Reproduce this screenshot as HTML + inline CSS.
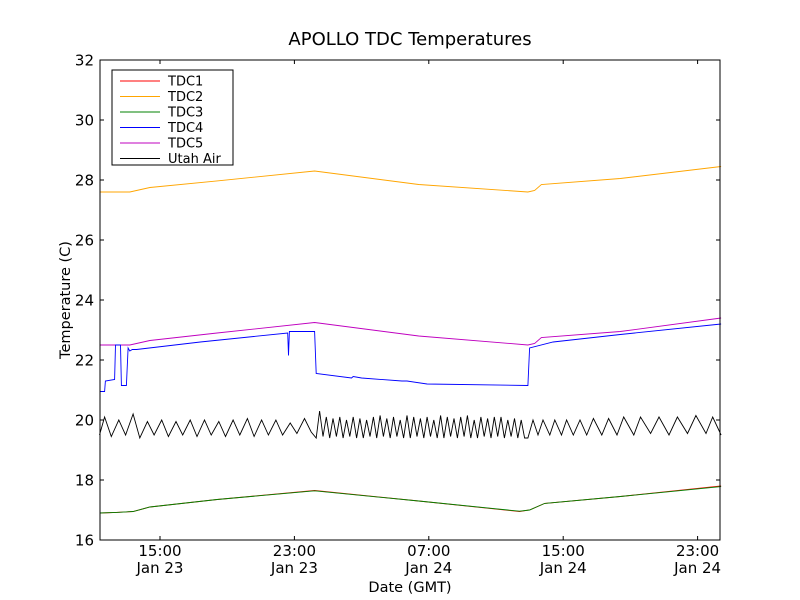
<!DOCTYPE html>
<html><head><meta charset="utf-8"><style>
body{margin:0;background:#fff;}
svg{display:block;font-family:"DejaVu Sans","Liberation Sans",sans-serif;}
</style></head><body>
<svg id="chart" width="800" height="600" viewBox="0 0 800 600" xmlns="http://www.w3.org/2000/svg">
<rect width="800" height="600" fill="#fff"/>
<text x="410" y="45" font-size="18" text-anchor="middle">APOLLO TDC Temperatures</text>
<g id="plot"></g>
<rect x="100" y="60" width="620" height="480" fill="none" stroke="#000" stroke-width="1"/>
<text x="410" y="592" font-size="14.5" text-anchor="middle">Date (GMT)</text>
<text transform="translate(70,300) rotate(-90)" font-size="14.5" text-anchor="middle">Temperature (C)</text>
<g id="legend"></g>
</svg>
<script>
const tdc13Times=[0,1,2,3,7,12.8,19,25,25.6,26.5,31,37];
const tdc1Temps=[16.9,16.92,16.95,17.1,17.35,17.65,17.3,16.95,17.0,17.22,17.45,17.8];
const tdc3Temps=[16.9,16.92,16.95,17.1,17.35,17.64,17.3,16.96,17.0,17.22,17.45,17.78];
const tdc2Times=[0,1.8,3,7,12.8,19,25.5,25.9,26.3,31,37];
const tdc2Temps=[27.6,27.6,27.75,27.97,28.3,27.85,27.6,27.65,27.85,28.05,28.45];
const tdc5Times=[0,1.8,3,7,12.8,19,25.5,25.9,26.3,31,37];
const tdc5Temps=[22.5,22.5,22.65,22.9,23.25,22.8,22.5,22.55,22.75,22.95,23.4];
const tdc4Times=[0,0.3,0.35,0.9,0.95,1.25,1.3,1.6,1.7,1.8,1.95,2.2,6,11.2,11.25,11.3,11.4,12.8,12.9,15,15.1,15.6,18,18.3,19.5,25.5,25.6,27,31,37];
const tdc4Temps=[20.95,20.95,21.3,21.35,22.5,22.5,21.15,21.15,22.4,22.3,22.35,22.35,22.6,22.9,22.15,22.95,22.95,22.95,21.55,21.4,21.45,21.4,21.3,21.3,21.2,21.15,22.4,22.6,22.85,23.2];
const airTimes=[0,0.3,0.7,1.15,1.55,2.0,2.4,2.85,3.25,3.7,4.1,4.55,4.95,5.4,5.8,6.25,6.65,7.1,7.5,7.95,8.35,8.8,9.2,9.65,10.05,10.5,10.9,11.35,11.75,12.2,12.6,12.9,
13.1,13.3,13.5,13.7,13.9,14.1,14.3,14.5,14.7,14.9,15.1,15.3,15.5,15.7,15.9,16.1,16.3,16.5,16.7,16.9,17.1,17.3,17.5,17.7,17.9,18.1,18.3,18.5,18.7,18.9,19.1,19.3,19.5,19.7,19.9,20.1,20.3,20.5,20.7,20.9,21.1,21.3,21.5,21.7,21.9,22.1,22.3,22.5,22.7,22.9,23.1,23.3,23.5,23.7,23.9,24.1,24.3,24.5,24.7,24.9,25.1,25.3,25.5,
25.8,26.1,26.4,26.8,27.1,27.5,27.8,28.2,28.6,29.0,29.4,29.9,30.3,30.8,31.2,31.8,32.2,32.8,33.3,33.9,34.4,35.0,35.5,36.1,36.5,37.0];
const airTemps=[19.5,20.1,19.45,20.0,19.5,20.2,19.4,19.95,19.5,20.0,19.45,19.95,19.5,20.0,19.45,20.0,19.5,19.95,19.45,20.0,19.5,20.05,19.45,20.0,19.5,20.0,19.5,19.9,19.55,20.05,19.6,19.4,
20.3,19.45,20.1,19.4,20.05,19.45,20.1,19.4,20.0,19.45,20.1,19.4,20.05,19.4,20.0,19.45,20.1,19.4,20.15,19.45,20.05,19.4,20.1,19.45,20.0,19.4,20.15,19.4,20.1,19.45,20.05,19.4,20.1,19.45,20.0,19.4,20.15,19.4,20.1,19.45,20.05,19.4,20.1,19.45,20.15,19.4,20.0,19.4,20.1,19.45,20.05,19.4,20.1,19.45,20.1,19.4,20.0,19.45,20.05,19.4,20.0,19.4,19.4,
20.0,19.5,20.0,19.5,20.0,19.5,20.0,19.5,20.0,19.5,20.05,19.5,20.05,19.5,20.1,19.5,20.1,19.55,20.1,19.5,20.1,19.55,20.15,19.55,20.1,19.5];
const yTicks=[16,18,20,22,24,26,28,30,32];
const xTickHours=[3.6,11.6,19.6,27.6,35.6];
const xTickTimes=["15:00","23:00","07:00","15:00","23:00"];
const xTickDates=["Jan 23","Jan 23","Jan 24","Jan 24","Jan 24"];
const seriesNames=["TDC1","TDC2","TDC3","TDC4","TDC5","Utah Air"];
const seriesColors=["#ff0000","#ffa500","#008000","#0000ff","#bf00bf","#000000"];

const NS="http://www.w3.org/2000/svg";
const X=h=>160+(h-3.6)*16.8;
const Y=v=>540-(v-16)*30;
const plot=document.getElementById('plot');
const svg=document.getElementById('chart');
function mk(tag,attrs,parent){const e=document.createElementNS(NS,tag);for(const k in attrs)e.setAttribute(k,attrs[k]);parent.appendChild(e);return e;}
function line(times,vals,color,name){
  const d=times.map((t,i)=>(i?'L':'M')+X(t).toFixed(1)+','+Y(vals[i]).toFixed(1)).join('');
  const p=mk('path',{d:d,fill:'none',stroke:color,'stroke-width':0.9},plot);
  
  
}
line(tdc2Times,tdc2Temps,seriesColors[1],'tdc2-line');
line(tdc5Times,tdc5Temps,seriesColors[4],'tdc5-line');
line(tdc4Times,tdc4Temps,seriesColors[3],'tdc4-line');
line(airTimes,airTemps,seriesColors[5],'utah-air-line');
line(tdc13Times,tdc1Temps,seriesColors[0],'tdc1-line');
line(tdc13Times,tdc3Temps,seriesColors[2],'tdc3-line');
yTicks.forEach(v=>{
  const y=Y(v);
  const a=mk('line',{x1:100,x2:104,y1:y,y2:y,stroke:'#000'},svg);
  
  
  mk('line',{x1:716,x2:720,y1:y,y2:y,stroke:'#000'},svg);
  const t=mk('text',{x:94,y:y+5.5,'font-size':15,'text-anchor':'end'},svg);
  t.textContent=v;
  
  
});
xTickHours.forEach((h,i)=>{
  const x=X(h);
  const a=mk('line',{x1:x,x2:x,y1:536,y2:540,stroke:'#000'},svg);
  
  
  mk('line',{x1:x,x2:x,y1:60,y2:64,stroke:'#000'},svg);
  const t=mk('text',{x:x,y:556,'font-size':15,'text-anchor':'middle'},svg);
  t.textContent=xTickTimes[i];
  
  
  const t2=mk('text',{x:x,y:573,'font-size':15,'text-anchor':'middle'},svg);
  t2.textContent=xTickDates[i];
  
  
});
const lg=document.getElementById('legend');
mk('rect',{x:112,y:70,width:121,height:95,fill:'#fff',stroke:'#000'},lg);
seriesNames.forEach((n,i)=>{
  const y=81+i*15.5;
  const l=mk('line',{x1:120,x2:160,y1:y,y2:y,stroke:seriesColors[i],'stroke-width':0.9},lg);
  
  
  const t=mk('text',{x:168,y:y+4.5,'font-size':13},lg);
  t.textContent=n;
  
  
});
</script>
</body></html>
